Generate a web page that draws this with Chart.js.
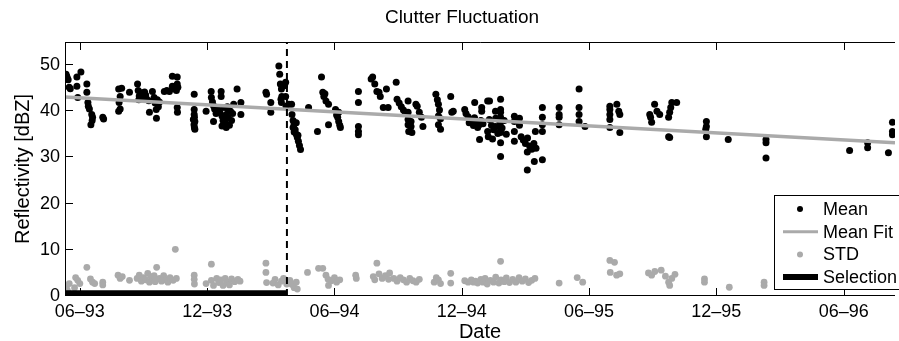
<!DOCTYPE html>
<html>
<head>
<meta charset="utf-8">
<script src="https://cdn.jsdelivr.net/npm/chart.js@4.4.1/dist/chart.umd.min.js"></script>
<style>
  body { margin: 0; background: #fff; }
  #chart { display: block; }
</style>
</head>
<body>
<canvas id="chart" width="899" height="341"></canvas>
<script>
// x values are months counted from Jan 1993 (Jun 1993 = 5)
const tickMonths = [5, 11, 17, 23, 29, 35, 41];
const tickLabels = ["06–93", "12–93", "06–94", "12–94", "06–95", "12–95", "06–96"];
const yTicks = [0, 10, 20, 30, 40, 50];

// [month, dBZ]
const meanPoints = [
    [4.35,48.0],[4.4,47.3],[4.45,46.8],[4.5,45.2],[4.38,47.6],[4.55,44.9],
    [4.86,47.4],[4.86,45.4],[4.9,43.0],[5.05,48.5],
    [5.33,45.9],[5.33,44.1],[5.38,41.9],[5.4,41.1],[5.45,40.5],
    [5.56,39.3],[5.6,38.7],[5.52,37.1],[5.58,38.0],[6.08,38.7],[6.12,38.3],
    [6.83,44.8],[6.9,43.2],[6.85,41.9],[6.83,40.0],[6.97,45.0],[6.9,40.5],[7.34,44.1],
    [7.72,45.9],[7.75,44.5],[7.8,43.3],[7.85,42.8],[7.9,44.0],[7.95,43.0],[8.0,42.6],
    [8.05,44.2],[8.1,43.5],[8.14,42.7],[7.78,42.5],[8.28,39.8],[8.25,42.3],
    [8.42,44.3],[8.5,43.0],[8.55,41.8],[8.6,40.4],[8.65,42.5],[8.7,41.0],[8.61,38.5],[8.75,42.0],
    [8.98,44.3],[9.1,44.5],[9.22,44.3],[9.36,47.6],[9.36,45.4],[9.4,44.9],
    [9.59,47.4],[9.59,45.9],[9.62,45.2],[9.59,40.8],[9.6,39.8],[9.55,44.5],
    [10.39,43.7],[10.39,40.4],[10.39,39.3],[10.4,38.7],[10.42,37.8],[10.38,37.1],[10.4,36.5],[10.42,36.1],[10.35,38.2],
    [10.95,40.0],[11.19,44.3],[11.25,42.0],[11.3,41.2],[11.35,40.5],[11.42,39.5],[11.3,37.8],[11.2,43.0],
    [11.66,44.3],[11.66,43.2],
    [11.5,40.5],[11.6,39.8],[11.7,39.0],[11.75,38.0],[11.8,40.8],[11.85,37.5],[11.9,39.3],[11.95,41.0],
    [12.0,38.6],[12.05,37.0],[12.1,40.0],[12.15,38.0],[12.2,39.5],[12.25,41.5],[11.7,36.8],[11.9,36.5],[12.0,40.3],
    [12.41,44.8],[12.59,41.9],[12.59,39.3],[13.77,44.1],[13.8,43.7],[14.0,41.9],[14.0,39.8],
    [14.38,49.8],[14.42,48.0],[14.45,45.9],[14.5,44.8],[14.52,43.2],[14.48,42.6],[14.5,41.9],
    [14.7,46.3],[14.7,43.2],[14.72,41.1],[14.65,45.5],[14.85,41.5],[14.98,41.5],
    [15.0,39.3],[15.05,38.0],[15.1,37.2],[15.15,36.0],[15.2,35.0],[15.25,34.3],[15.05,36.5],
    [15.3,33.5],[15.35,32.6],[15.4,31.7],[15.1,35.5],[15.2,37.5],[15.28,34.8],
    [15.78,40.8],[16.2,35.6],[16.39,47.4],[16.45,44.1],[16.5,43.2],[16.6,42.2],[16.72,41.5],[16.55,43.8],[16.72,37.1],
    [17.05,40.4],[17.1,39.2],[17.15,38.7],[17.2,37.8],[17.25,37.0],[17.28,36.5],[17.2,39.8],
    [18.13,44.3],[18.13,41.9],[18.13,36.7],[18.13,35.6],[18.13,34.9],
    [18.73,47.0],[18.8,47.4],[18.9,45.9],[19.0,44.3],[19.1,44.1],[19.16,43.2],
    [19.3,40.8],[19.53,40.8],[19.45,44.8],[19.91,46.3],
    [19.95,42.6],[20.05,41.8],[20.15,41.0],[20.25,40.3],[20.33,39.8],
    [20.47,42.2],[20.47,39.8],[20.47,38.2],[20.47,37.1],[20.5,35.6],[20.61,37.8],[20.61,36.7],[20.65,35.4],
    [20.84,41.5],[20.9,41.1],[21.0,39.8],[21.1,38.7],[21.17,36.7],
    [21.78,43.7],[21.85,42.5],[21.9,41.5],[21.95,40.3],[21.9,39.0],[22.0,38.4],[21.9,37.1],[22.0,36.1],
    [22.48,43.2],[22.53,39.8],[22.6,40.0],
    [23.14,40.4],[23.2,39.5],[23.3,38.8],[23.4,38.2],[23.5,37.8],[23.6,38.6],[23.7,37.5],[23.8,37.0],
    [23.9,38.0],[24.0,37.3],[23.35,37.5],[23.55,36.9],[23.75,36.5],[23.61,41.9],[23.84,33.9],
    [23.94,40.8],[23.94,40.0],[24.22,42.2],[24.22,35.6],[24.25,34.5],[24.59,40.0],[24.59,36.7],
    [24.31,42.2],[24.3,38.2],[24.4,37.0],[24.5,36.0],[24.6,38.5],[24.7,35.2],[24.8,37.5],[24.9,36.4],
    [25.0,38.0],[25.1,35.0],[24.45,34.0],
    [24.83,42.6],[24.83,40.4],[24.83,39.8],[24.83,38.7],[24.83,36.7],[24.83,36.1],[24.83,35.4],[24.83,33.2],[24.83,30.2],
    [25.48,38.9],[25.48,37.8],[25.48,35.6],[25.48,33.5],[25.72,38.5],[25.72,37.0],
    [25.8,34.5],[25.9,33.8],[26.0,33.0],[26.1,34.2],[26.2,32.5],[26.3,31.8],[26.4,33.0],[26.5,32.0],
    [26.09,31.2],[26.09,27.3],[26.42,29.1],[26.47,35.6],
    [26.8,40.8],[26.8,38.7],[26.8,37.1],[26.8,35.6],[26.8,29.5],
    [27.59,40.8],[27.59,39.3],[27.59,38.7],[27.59,37.1],
    [28.53,44.8],[28.53,40.8],[28.53,39.3],[28.53,37.8],[28.81,36.7],
    [29.98,41.1],[29.98,40.4],[29.98,39.3],[29.98,38.2],[29.98,36.5],
    [30.31,41.5],[30.4,40.0],[30.45,39.3],[30.45,35.4],
    [31.86,39.3],[31.9,38.7],[31.95,37.6],[32.09,41.5],[32.2,40.0],[32.33,39.3],
    [32.75,38.7],[32.8,39.8],[32.85,40.8],[32.9,41.9],[33.13,41.9],[32.75,34.5],[32.8,34.3],
    [34.53,37.8],[34.53,36.7],[34.5,36.1],[34.53,34.5],[35.56,33.9],
    [37.34,33.9],[37.34,33.2],[37.34,29.9],
    [41.28,31.5],[42.13,33.2],[42.13,32.1],[43.11,31.0],[43.3,37.6],[43.3,35.6],[43.3,34.9]
];

const stdPoints = [
    [4.35,2.0],[4.4,1.3],[4.5,2.7],[4.45,0.8],[4.8,4.0],[4.9,3.4],[5.0,2.7],[4.75,1.8],[5.33,6.2],
    [5.5,3.7],[5.6,3.0],[5.7,2.7],[6.08,3.0],[6.08,2.4],[6.8,4.5],[6.9,3.8],[7.0,4.2],[7.34,3.4],
    [7.7,3.8],[7.8,4.5],[7.9,3.2],[8.0,4.0],[8.1,3.5],[8.2,4.9],[8.28,3.0],[8.35,4.2],[8.45,3.6],
    [8.55,3.1],[8.62,6.2],[8.5,4.4],[8.75,3.8],[8.85,3.2],[8.95,4.4],[9.05,3.5],[9.15,3.0],[9.25,4.0],
    [9.4,3.4],[9.55,3.8],[9.5,10.1],[10.39,4.5],[10.39,3.6],[10.4,2.6],[10.95,2.7],[11.2,6.9],
    [11.2,3.4],[11.3,2.3],[11.45,3.8],[11.55,2.9],[11.65,3.5],[11.75,2.3],[11.85,3.8],[11.95,3.0],
    [12.05,2.4],[12.15,3.7],[12.3,3.1],[12.45,3.6],[12.55,3.2],
    [13.77,7.1],[13.77,5.1],[13.8,2.9],[14.1,2.8],[14.2,3.6],[14.35,2.4],[14.5,3.2],[14.6,3.8],
    [14.75,2.6],[14.9,3.4],[15.0,2.5],[15.1,1.8],[15.2,3.0],[15.25,1.5],[15.73,5.1],[16.25,6.0],[16.45,6.0],
    [16.6,4.5],[16.7,3.6],[16.72,2.3],[16.85,3.3],[17.0,4.0],[17.1,3.0],[17.25,3.5],[18.0,4.5],[18.03,3.8],
    [18.83,4.2],[18.9,3.5],[19.0,7.1],[19.1,4.8],[19.25,3.8],[19.4,4.4],[19.55,3.6],[19.6,5.0],
    [19.8,3.8],[19.95,3.2],[20.1,4.0],[20.25,3.5],[20.4,3.0],[20.55,3.8],[20.7,3.3],[20.85,3.0],[21.0,3.6],
    [21.7,3.0],[21.8,4.0],[21.9,3.5],[22.0,2.7],[22.48,4.9],[22.48,2.8],
    [23.14,3.3],[23.3,3.0],[23.45,3.5],[23.55,3.0],[23.65,3.2],[23.75,2.8],[23.9,3.6],[24.0,3.0],
    [24.1,3.8],[24.2,2.6],[24.35,3.4],[24.5,3.0],[24.6,4.1],[24.75,2.8],[24.85,3.5],[25.0,3.1],
    [25.1,3.9],[25.25,2.9],[25.4,3.6],[25.55,3.0],[25.7,4.0],[25.85,3.2],[26.0,3.7],[26.15,2.9],
    [26.3,3.4],[26.45,3.8],[24.83,7.5],[27.59,2.8],[28.44,4.0],[28.7,3.0],
    [29.98,7.7],[30.2,7.3],[30.0,5.1],[30.3,4.5],[30.45,4.8],
    [31.8,5.0],[31.95,4.5],[32.1,5.3],[32.4,5.6],[32.6,4.3],[32.75,3.0],[32.8,2.3],[33.05,4.7],[32.9,3.8],
    [34.44,3.7],[34.44,3.0],[35.61,1.9],[37.25,3.0],[37.25,2.3],
    [38.6,3.2],[40.0,3.6],[41.3,2.6],[42.1,3.1],[43.1,2.9]
];

// linear fit of the mean values
const fitX = [4.3, 43.42];
const fitY = [43.1, 33.2];

const selectionX = [4.3, 14.76];
const selectionY = 0.6;
const cutoffX = 14.76;

const xMin = 4.3, xMax = 43.42, yMin = 0, yMax = 55;
const FONT = "'Liberation Sans', Arial, Helvetica, sans-serif";

const toXY = pts => pts.map(p => ({x: p[0], y: p[1]}));

//box, inward ticks, title and legend
const matlabAxes = {
    id: "matlabAxes",
    afterDraw(chart) {
        const {ctx, chartArea: a, scales: {x, y}} = chart;
        ctx.save();
        ctx.strokeStyle = "#000";
        ctx.lineWidth = 1;
        ctx.beginPath();
        ctx.moveTo(a.left + 0.5, a.top + 0.5);
        ctx.lineTo(a.right, a.top + 0.5);
        ctx.moveTo(a.left + 0.5, a.top);
        ctx.lineTo(a.left + 0.5, a.bottom);
        ctx.moveTo(a.left, a.bottom - 0.5);
        ctx.lineTo(a.right, a.bottom - 0.5);
        tickMonths.forEach(m => {
            const px = Math.round(x.getPixelForValue(m)) + 0.5;
            ctx.moveTo(px, a.bottom); ctx.lineTo(px, a.bottom - 8);
            ctx.moveTo(px, a.top); ctx.lineTo(px, a.top + 8);
        });
        yTicks.forEach(v => {
            const py = Math.round(y.getPixelForValue(v)) - 0.5;
            ctx.moveTo(a.left, py); ctx.lineTo(a.left + 8, py);
        });
        ctx.stroke();

        // title
        ctx.fillStyle = "#000";
        ctx.font = "19px " + FONT;
        ctx.textAlign = "center";
        ctx.textBaseline = "middle";
        ctx.fillText("Clutter Fluctuation", 462, 18);

        // legend
        const lx = 774, ly = 195, lw = 140, lh = 94;
        ctx.fillStyle = "#fff";
        ctx.fillRect(lx, ly, lw, lh);
        ctx.strokeRect(lx + 0.5, ly + 0.5, lw, lh);
        const rows = [
            {label: "Mean", kind: "dot", color: "#000"},
            {label: "Mean Fit", kind: "line", color: "#aaaaaa", width: 3},
            {label: "STD", kind: "dot", color: "#aaaaaa"},
            {label: "Selection", kind: "line", color: "#000", width: 6}
        ];
        ctx.font = "18px " + FONT;
        ctx.textAlign = "left";
        rows.forEach((r, i) => {
            const cy = 209 + i * 22.7;
            if (r.kind === "dot") {
                ctx.fillStyle = r.color;
                ctx.beginPath();
                ctx.arc(800, cy, 3, 0, Math.PI * 2);
                ctx.fill();
            } else {
                ctx.strokeStyle = r.color;
                ctx.lineWidth = r.width;
                ctx.beginPath();
                ctx.moveTo(783, cy); ctx.lineTo(818, cy);
                ctx.stroke();
            }
            ctx.fillStyle = "#000";
            ctx.fillText(r.label, 823, cy + 1);
        });
        ctx.restore();
    }
};

new Chart(document.getElementById("chart"), {
    type: "scatter",
    data: {
        datasets: [
            {
                label: "Mean",
                data: toXY(meanPoints),
                backgroundColor: "#000",
                pointRadius: 3.5,
                pointBorderWidth: 0,
                order: 4
            },
            {
                label: "Mean Fit",
                type: "line",
                data: fitX.map((v, i) => ({x: v, y: fitY[i]})),
                borderColor: "#aaaaaa",
                borderWidth: 3.5,
                pointRadius: 0,
                order: 3
            },
            {
                label: "STD",
                data: toXY(stdPoints),
                backgroundColor: "#aaaaaa",
                pointRadius: 3.4,
                pointBorderWidth: 0,
                order: 2
            },
            {
                label: "Selection",
                type: "line",
                data: selectionX.map(v => ({x: v, y: selectionY})),
                borderColor: "#000",
                borderWidth: 6,
                pointRadius: 0,
                order: 1
            },
            {
                label: "Cutoff",
                type: "line",
                data: [{x: cutoffX, y: yMin}, {x: cutoffX, y: yMax}],
                borderColor: "#000",
                borderWidth: 2,
                borderDash: [7, 5],
                pointRadius: 0,
                order: 0
            }
        ]
    },
    options: {
        responsive: false,
        animation: false,
        layout: {padding: {top: 42, right: 0, left: 0, bottom: 0}},
        plugins: {legend: {display: false}, tooltip: {enabled: false}},
        scales: {
            x: {
                type: "linear",
                min: xMin,
                max: xMax,
                grid: {display: false, drawTicks: false},
                border: {display: false},
                afterBuildTicks: s => { s.ticks = tickMonths.map(v => ({value: v})); },
                afterFit: s => { s.height = 45; },
                ticks: {
                    color: "#000",
                    padding: 5,
                    maxRotation: 0,
                    autoSkip: false,
                    font: {family: FONT, size: 18},
                    callback: v => tickLabels[tickMonths.indexOf(v)]
                },
                title: {
                    display: true,
                    text: "Date",
                    color: "#000",
                    font: {family: FONT, size: 20},
                    padding: {top: 0, bottom: -3}
                }
            },
            y: {
                min: yMin,
                max: yMax,
                grid: {display: false, drawTicks: false},
                border: {display: false},
                afterBuildTicks: s => { s.ticks = yTicks.map(v => ({value: v})); },
                afterFit: s => { s.width = 65; },
                ticks: {
                    color: "#000",
                    padding: 5,
                    font: {family: FONT, size: 18}
                },
                title: {
                    display: true,
                    text: "Reflectivity [dBZ]",
                    color: "#000",
                    font: {family: FONT, size: 20},
                    padding: {top: 11, bottom: 0}
                }
            }
        }
    },
    plugins: [matlabAxes]
});
</script>
</body>
</html>
